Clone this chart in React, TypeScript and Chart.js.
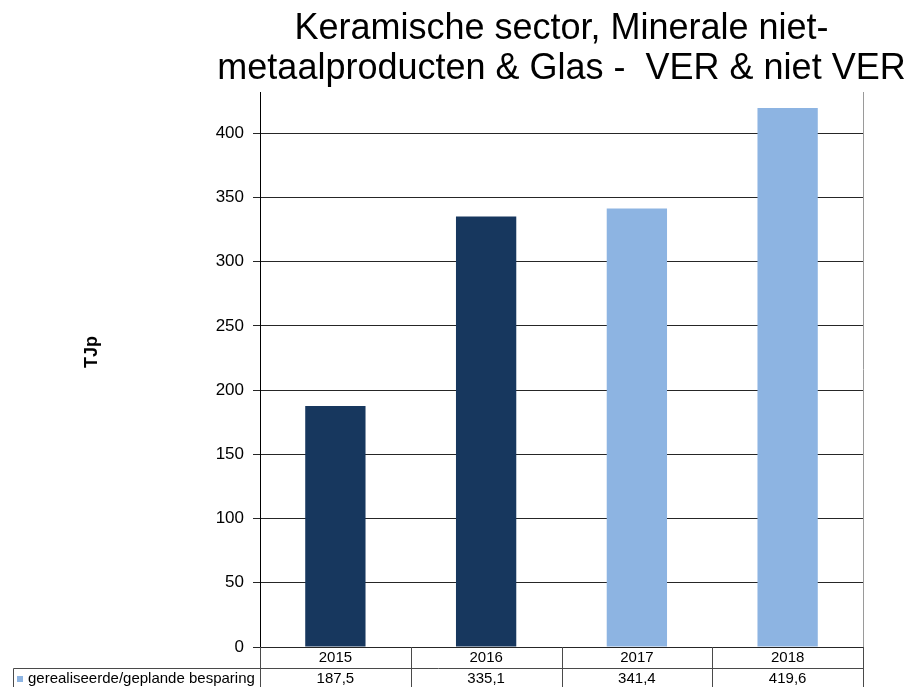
import React, { useEffect, useRef } from "react";
import { Chart, registerables } from "chart.js";

Chart.register(...registerables);

const titleLines = ["Keramische sector, Minerale niet-", "metaalproducten & Glas -  VER & niet VER"];
const yAxisTitle = "TJp";
const categories = ["2015", "2016", "2017", "2018"];
const seriesName = "gerealiseerde/geplande besparing";
const values = [187.5, 335.1, 341.4, 419.6];
const yTicks = [0, 50, 100, 150, 200, 250, 300, 350, 400];
const yMax = 432;

const DARK = "#17375E";
const LIGHT = "#8DB4E2";
const barColors = [DARK, DARK, LIGHT, LIGHT];
const FONT = "'Liberation Sans', Arial, sans-serif";

const fmt = (v: number) => v.toFixed(1).replace(".", ",");

const decorPlugin = {
  id: "decor",
  afterDraw(chart: any) {
    const ctx = chart.ctx as CanvasRenderingContext2D;
    const area = chart.chartArea;
    const xs = chart.scales.x;
    ctx.save();
    // title
    ctx.fillStyle = "#000";
    ctx.font = `36px ${FONT}`;
    ctx.textAlign = "center";
    ctx.textBaseline = "alphabetic";
    const cx = (area.left + area.right) / 2;
    ctx.fillText(titleLines[0], cx, 39);
    ctx.fillText(titleLines[1], cx, 79);

    // y axis title
    ctx.save();
    ctx.translate(92, 352);
    ctx.rotate(-Math.PI / 2);
    ctx.font = `bold 18px ${FONT}`;
    ctx.textAlign = "center";
    ctx.textBaseline = "middle";
    ctx.fillText(yAxisTitle, 0, 0);
    ctx.restore();

    // right border of plot
    ctx.strokeStyle = "#9a9a9a";
    ctx.lineWidth = 1;
    ctx.beginPath();
    ctx.moveTo(Math.round(area.right) + 0.5, area.top);
    ctx.lineTo(Math.round(area.right) + 0.5, area.bottom);
    ctx.stroke();

    // data table
    const n = categories.length;
    const colW = (area.right - area.left) / n;
    const rowTop = area.bottom;
    const rowMid = rowTop + 21;
    const tableBottom = chart.height + 2;
    ctx.strokeStyle = "#4a4a4a";
    ctx.beginPath();
    for (let i = 0; i <= n; i++) {
      const x = Math.round(area.left + i * colW) + 0.5;
      ctx.moveTo(x, rowTop);
      ctx.lineTo(x, tableBottom);
    }
    ctx.moveTo(13.5, tableBottom);
    ctx.lineTo(13.5, rowMid + 0.5);
    ctx.lineTo(Math.round(area.right) + 0.5, rowMid + 0.5);
    ctx.stroke();

    ctx.font = `15px ${FONT}`;
    ctx.textAlign = "center";
    ctx.textBaseline = "middle";
    ctx.fillStyle = "#000";
    for (let i = 0; i < n; i++) {
      const x = xs.getPixelForValue(i);
      ctx.fillText(categories[i], x, rowTop + 11);
      ctx.fillText(fmt(values[i]), x, rowMid + 11);
    }
    ctx.fillStyle = LIGHT;
    ctx.fillRect(17, rowMid + 8, 6, 6);
    ctx.fillStyle = "#000";
    ctx.textAlign = "left";
    ctx.fillText(seriesName, 28, rowMid + 11);
    ctx.restore();
  },
};

export default function App() {
  const ref = useRef<HTMLCanvasElement | null>(null);
  useEffect(() => {
    if (!ref.current) return;
    const chart = new Chart(ref.current, {
      type: "bar",
      data: {
        labels: categories,
        datasets: [
          {
            label: seriesName,
            data: values,
            backgroundColor: barColors,
            borderWidth: 0,
            barPercentage: 0.4,
            categoryPercentage: 1,
          },
        ],
      },
      options: {
        animation: false,
        responsive: false,
        layout: { padding: { top: 92, right: 47, bottom: 40, left: 0 } },
        plugins: {
          legend: { display: false },
          title: { display: false },
          tooltip: { enabled: false },
        },
        scales: {
          x: {
            type: "category",
            grid: { display: false },
            border: { display: false },
            ticks: { display: false },
            afterFit: (s: any) => {
              s.height = 0;
            },
          },
          y: {
            min: 0,
            max: yMax,
            afterBuildTicks: (s: any) => {
              s.ticks = yTicks.map((v) => ({ value: v }));
            },
            ticks: {
              font: { family: FONT, size: 17 },
              color: "#000",
              padding: 9,
            },
            grid: { color: "#262626", lineWidth: 1, tickLength: 7 },
            border: { color: "#000", width: 1 },
            afterFit: (s: any) => {
              s.width = 260;
            },
          },
        },
      },
      plugins: [decorPlugin],
    } as any);
    return () => chart.destroy();
  }, []);
  return (
    <div style={{ position: "fixed", left: 0, top: 0, width: 910, height: 687, background: "#fff" }}>
      <canvas ref={ref} width={910} height={687} style={{ display: "block" }} />
    </div>
  );
}
